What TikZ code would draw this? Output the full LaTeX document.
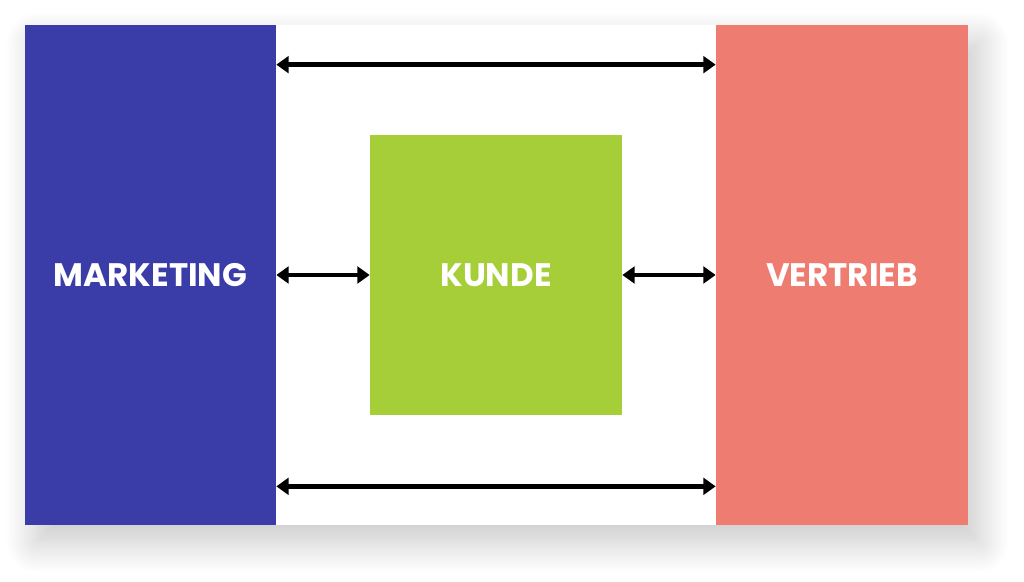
\documentclass[tikz,border=0pt]{standalone}
\usepackage{fontspec}
\setsansfont{Poppins}
\usepackage{xcolor}
\usetikzlibrary{positioning, arrows.meta, shadows.blur}

\definecolor{mktblue}{RGB}{58,61,167}
\definecolor{vtred}{RGB}{238,124,112}
\definecolor{kdgreen}{RGB}{166,206,57}

\begin{document}
\begin{tikzpicture}[
        blk/.style={rectangle,inner sep=0pt,text=white,
          font=\sffamily\bfseries\fontsize{18.5}{22}\selectfont},
        dbl/.style={line width=2.5pt,
          {Triangle[length=7pt,width=9.5pt]}-{Triangle[length=7pt,width=9.5pt]}},
      ]
      \useasboundingbox (0,0) rectangle (20.48,-11.64);
      % card with shadow
      \node[rectangle,inner sep=0pt,fill=white,minimum width=18.86cm,minimum height=10cm,
        blur shadow={shadow xshift=0.22cm,shadow yshift=-0.35cm,shadow blur radius=0.6cm,
          shadow blur steps=20,shadow opacity=22}]
        (card) at (9.93,-5.5) {};
      \node[blk,fill=mktblue,minimum width=5.02cm,minimum height=10cm,anchor=north west] (mkt) at (card.north west) {MARKETING};
      \node[blk,fill=vtred,minimum width=5.04cm,minimum height=10cm,anchor=north east] (vt) at (card.north east) {VERTRIEB};
      \node[blk,fill=kdgreen,minimum width=5.04cm,minimum height=5.6cm] (kd) at (9.92,-5.5) {KUNDE};
      \draw[dbl] ([yshift=-0.8cm]mkt.north east) -- ([yshift=-0.8cm]vt.north west);
      \draw[dbl] (mkt.east) -- (kd.west);
      \draw[dbl] (kd.east) -- (vt.west);
      \draw[dbl] ([yshift=0.78cm]mkt.south east) -- ([yshift=0.78cm]vt.south west);
    \end{tikzpicture}
\end{document}
